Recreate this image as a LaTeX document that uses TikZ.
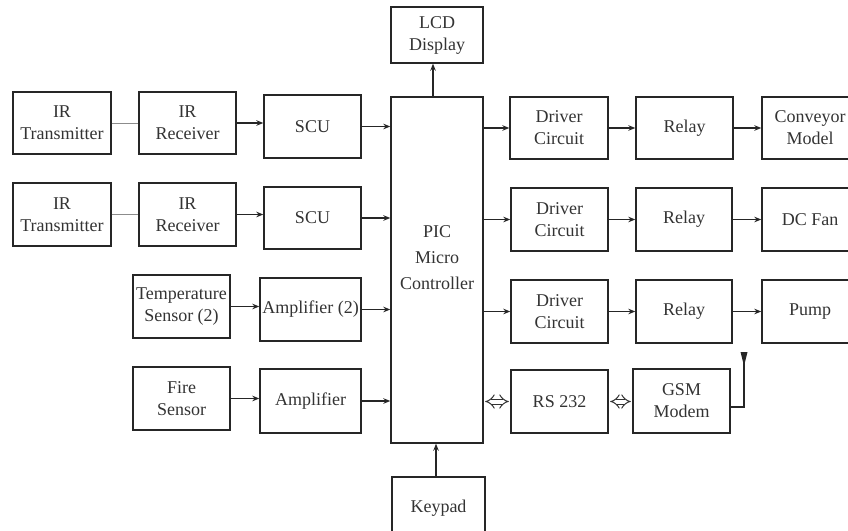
\documentclass[tikz,border=0pt]{standalone}
\usepackage{fontspec}
\setmainfont{Liberation Serif}
\usetikzlibrary{arrows.meta}
\begin{document}
\begin{tikzpicture}[x=1pt,y=-1pt,
  blk/.style={draw=black!85,line width=1.4pt,align=center,inner sep=0pt,
    font=\fontsize{18}{22}\selectfont,text=black!80},
  arr/.style={line width=1.4pt,draw=black!85,-{Stealth[length=7pt,width=5.5pt]}},
  link/.style={line width=0.8pt,draw=black!45},
  dbl/.style={draw=black!80,double=white,double distance=4pt,line width=1pt,
    {Implies[length=5pt]}-{Implies[length=5pt]}}]
\useasboundingbox (0,0) rectangle (848,530);
\clip (0,0) rectangle (848,530);
% left column
\node[blk,minimum width=98pt,minimum height=62pt] (tx1) at (62,123) {IR\\Transmitter};
\node[blk,minimum width=97pt,minimum height=62pt] (rx1) at (187.5,123) {IR\\Receiver};
\node[blk,minimum width=97pt,minimum height=63pt] (scu1) at (312.5,126.5) {SCU};
\node[blk,minimum width=98pt,minimum height=63pt] (tx2) at (62,214.5) {IR\\Transmitter};
\node[blk,minimum width=97pt,minimum height=63pt] (rx2) at (187.5,214.5) {IR\\Receiver};
\node[blk,minimum width=97pt,minimum height=62pt] (scu2) at (312.5,218) {SCU};
\node[blk,minimum width=97pt,minimum height=63pt] (temp) at (181.5,306.5) {Temperature\\Sensor (2)};
\node[blk,minimum width=101pt,minimum height=63pt] (amp2) at (310.5,309.5) {Amplifier (2)};
\node[blk,minimum width=97pt,minimum height=63pt] (fire) at (181.5,398.5) {Fire\\Sensor};
\node[blk,minimum width=101pt,minimum height=64pt] (amp) at (310.5,401) {Amplifier};
% centre
\node[blk,minimum width=92pt,minimum height=346pt] (pic) at (437,270) {};
\node[font=\fontsize{18}{26}\selectfont,text=black!80,align=center] (pictxt) at (437,258) {PIC\\Micro\\Controller};
\node[blk,minimum width=92pt,minimum height=56pt] (lcd) at (437,35) {LCD\\Display};
\node[blk,minimum width=93pt,minimum height=62pt] (key) at (438.5,508) {Keypad};
% right side
\node[blk,minimum width=98pt,minimum height=62pt] (drv1) at (559,128) {Driver\\Circuit};
\node[blk,minimum width=97pt,minimum height=62pt] (rly1) at (684.5,128) {Relay};
\node[blk,minimum width=96pt,minimum height=62pt] (conv) at (810,128) {Conveyor\\Model};
\node[blk,minimum width=97pt,minimum height=63pt] (drv2) at (559.5,219.5) {Driver\\Circuit};
\node[blk,minimum width=96pt,minimum height=63pt] (rly2) at (684,219.5) {Relay};
\node[blk,minimum width=96pt,minimum height=63pt] (fan) at (810,219.5) {DC Fan};
\node[blk,minimum width=97pt,minimum height=63pt] (drv3) at (559.5,311.5) {Driver\\Circuit};
\node[blk,minimum width=96pt,minimum height=63pt] (rly3) at (684,311.5) {Relay};
\node[blk,minimum width=96pt,minimum height=63pt] (pump) at (810,311.5) {Pump};
\node[blk,minimum width=97pt,minimum height=63pt] (rs) at (559.5,401.5) {RS 232};
\node[blk,minimum width=97pt,minimum height=64pt] (gsm) at (681.5,401) {GSM\\Modem};
% connectors
\draw[link] (tx1.east) -- (rx1.west);
\draw[link] (tx2.east) -- (rx2.west);
\draw[arr] (rx1.east) -- (rx1.east -| scu1.west);
\draw[arr] (rx2.east) -- (rx2.east -| scu2.west);
\draw[arr] (scu1.east) -- (scu1.east -| pic.west);
\draw[arr] (scu2.east) -- (scu2.east -| pic.west);
\draw[arr] (temp.east) -- (temp.east -| amp2.west);
\draw[arr] (amp2.east) -- (amp2.east -| pic.west);
\draw[arr] (fire.east) -- (fire.east -| amp.west);
\draw[arr] (amp.east) -- (amp.east -| pic.west);
\draw[arr] ([xshift=-4pt]pic.north) -- ([xshift=-4pt]pic.north |- lcd.south);
\draw[arr] ([xshift=-2.5pt]key.north) -- ([xshift=-2.5pt]key.north |- pic.south);
\draw[arr] (pic.east |- drv1.west) -- (drv1.west);
\draw[arr] (pic.east |- drv2.west) -- (drv2.west);
\draw[arr] (pic.east |- drv3.west) -- (drv3.west);
\draw[arr] (drv1.east) -- (drv1.east -| rly1.west);
\draw[arr] (drv2.east) -- (drv2.east -| rly2.west);
\draw[arr] (drv3.east) -- (drv3.east -| rly3.west);
\draw[arr] (rly1.east) -- (rly1.east -| conv.west);
\draw[arr] (rly2.east) -- (rly2.east -| fan.west);
\draw[arr] (rly3.east) -- (rly3.east -| pump.west);
\draw[dbl] ([xshift=1.5pt]pic.east |- rs.west) -- ([xshift=-1.5pt]rs.west);
\draw[dbl] ([xshift=1.5pt]rs.east) -- ([xshift=-1.5pt]rs.east -| gsm.west);
% antenna
\coordinate (antb) at (744,407);
\coordinate (antt) at (744,360);
\draw[line width=1.4pt,draw=black!85] (gsm.east |- antb) -- (antb) -- (antt);
\fill[black!85] (740.5,352) -- (747.5,352) -- (744,366) -- cycle;
\end{tikzpicture}
\end{document}
